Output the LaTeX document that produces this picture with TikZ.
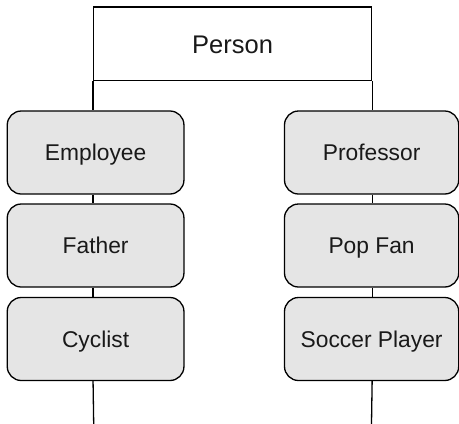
\documentclass[tikz,border=0pt]{standalone}
\usepackage{fontspec}
\setmainfont{Liberation Sans}
\begin{document}
\begin{tikzpicture}[x=1pt,y=-1pt,
  line width=1.3pt,
  personbox/.style={draw=black, rectangle, inner sep=0pt, minimum width=277.8pt, minimum height=73.7pt, font=\fontsize{25.5}{30}\selectfont, text=black!90, text height=18.3pt, text depth=0pt},
  rolebox/.style={draw=black, fill=black!10, rectangle, rounded corners=14pt, inner sep=0pt, minimum height=83pt, font=\fontsize{22.8}{27}\selectfont, text=black!90, text height=16.2pt, text depth=0pt},
  leftbox/.style={rolebox, minimum width=176.7pt},
  rightbox/.style={rolebox, minimum width=174.2pt},
  conn/.style={draw=black, line width=1.3pt}]
\useasboundingbox (0,0) rectangle (459,424);
\node[personbox] (person) at (232.6,43.85) {Person};
\coordinate (bl) at (93.7,424);
\coordinate (br) at (371.5,424);
\node[leftbox] (emp) at (95.6,152.5) {Employee};
\node[leftbox] (fat) at (95.6,245.5) {Father};
\node[leftbox] (cyc) at (95.6,339) {Cyclist};
\node[rightbox] (prof) at (371.6,152.5) {Professor};
\node[rightbox] (pop) at (371.6,245.5) {Pop Fan};
\node[rightbox] (soc) at (371.6,339) {Soccer Player};
\draw[conn] (person.south west) -- (person.south west |- emp.north);
\draw[conn] (emp.south -| person.south west) -- (fat.north -| person.south west);
\draw[conn] (fat.south -| person.south west) -- (cyc.north -| person.south west);
\draw[conn] (cyc.south -| person.south west) -- (bl);
\draw[conn] (person.south east) -- (person.south east |- prof.north);
\draw[conn] (prof.south -| person.south east) -- (pop.north -| person.south east);
\draw[conn] (pop.south -| person.south east) -- (soc.north -| person.south east);
\draw[conn] (soc.south -| person.south east) -- (br);
\end{tikzpicture}
\end{document}
